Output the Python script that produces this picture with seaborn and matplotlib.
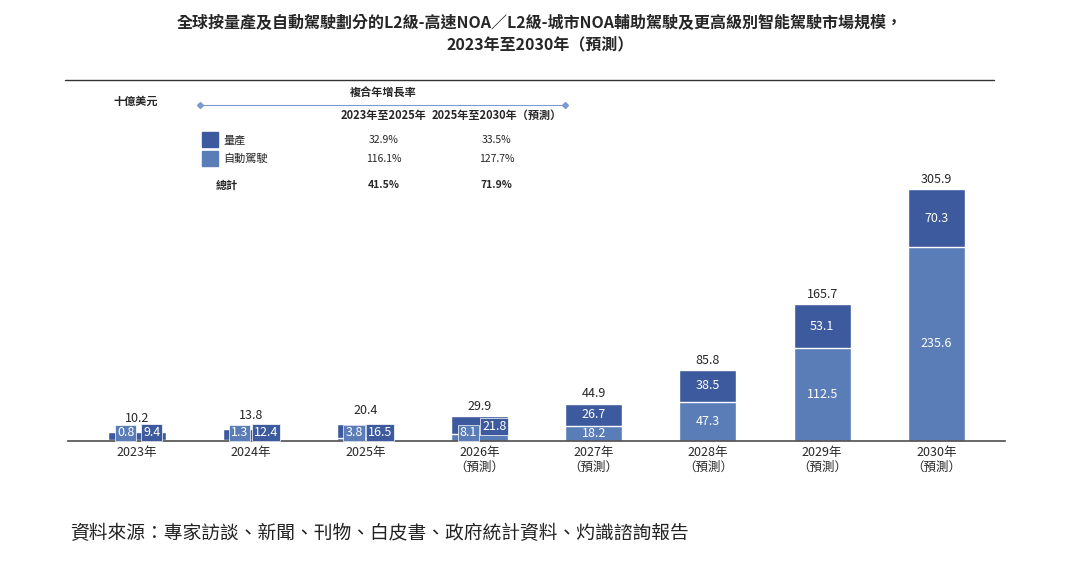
import matplotlib
matplotlib.use("Agg")
import matplotlib.pyplot as plt
import numpy as np
import pandas as pd
import seaborn as sns

years = ["2023年", "2024年", "2025年", "2026年\n（預測）", "2027年\n（預測）",
         "2028年\n（預測）", "2029年\n（預測）", "2030年\n（預測）"]
mass = [9.4, 12.4, 16.5, 21.8, 26.7, 38.5, 53.1, 70.3]        # 量產
auto = [0.8, 1.3, 3.8, 8.1, 18.2, 47.3, 112.5, 235.6]         # 自動駕駛
total = [10.2, 13.8, 20.4, 29.9, 44.9, 85.8, 165.7, 305.9]

dark = "#3D5A9E"
light = "#5A7DB8"

sns.set_theme(style="white")
plt.rcParams["font.family"] = ["Noto Sans CJK TC", "DejaVu Sans"]

fig = plt.figure(figsize=(10.8, 5.65), dpi=100)
ax = fig.add_axes([0.0634, 0.22, 0.867, 0.604])

df = pd.DataFrame({"year": years, "auto": auto, "total": total})
sns.barplot(data=df, x="year", y="total", color=dark, width=0.5, ax=ax, saturation=1)
sns.barplot(data=df, x="year", y="auto", color=light, width=0.5, ax=ax, saturation=1)
ax.set_ylim(0, 415)
ax.set_xlim(-0.6, 7.6)
ax.set_xlabel("")
ax.set_ylabel("")
ax.set_yticks([])
for s in ["top", "right", "left"]:
    ax.spines[s].set_visible(False)
ax.spines["bottom"].set_color("#555555")
ax.tick_params(axis="x", length=0, labelsize=9, pad=4)

for i in range(len(years)):
    off = 9 if i < 3 else 4
    ax.text(i, total[i] + off, f"{total[i]}", ha="center", va="bottom", fontsize=9)
    if i < 4:
        ax.text(i - 0.1, 1.5, f"{auto[i]}", ha="center", va="bottom", fontsize=9, color="white",
                bbox=dict(boxstyle="square,pad=0.15", fc=light, ec="white", lw=0.5))
        ax.text(i + 0.13, auto[i] + 1 if i == 3 else 2, f"{mass[i]}", ha="center", va="bottom",
                fontsize=9, color="white",
                bbox=dict(boxstyle="square,pad=0.15", fc=dark, ec="white", lw=0.5))
    else:
        ax.text(i, auto[i] / 2, f"{auto[i]}", ha="center", va="center", fontsize=9, color="white")
        ax.text(i, auto[i] + mass[i] / 2, f"{mass[i]}", ha="center", va="center", fontsize=9, color="white")

fig.text(0.5, 0.94, "全球按量產及自動駕駛劃分的L2級-高速NOA／L2級-城市NOA輔助駕駛及更高級別智能駕駛市場規模，\n2023年至2030年（預測）",
         ha="center", va="center", fontsize=11.5, fontweight="bold", linespacing=1.4)
fig.add_artist(plt.Line2D([0.06, 0.92], [0.858, 0.858], color="#333333", lw=1))

fig.text(0.105, 0.815, "十億美元", fontsize=8, style="italic", fontweight="bold")
fig.add_artist(plt.Line2D([0.185, 0.523], [0.815, 0.815], color="#7A9BD0", lw=0.8, marker="D", markersize=3))
fig.text(0.355, 0.83, "複合年增長率", fontsize=8, fontweight="bold", ha="center")
fig.text(0.355, 0.79, "2023年至2025年", fontsize=8, fontweight="bold", ha="center")
fig.text(0.46, 0.79, "2025年至2030年（預測）", fontsize=8, fontweight="bold", ha="center")
rows = [("量產", dark, "32.9%", "33.5%"), ("自動駕駛", light, "116.1%", "127.7%")]
for k, (name, c, a, b) in enumerate(rows):
    y = 0.752 - k * 0.033
    fig.add_artist(plt.Rectangle((0.187, y - 0.012), 0.015, 0.026, color=c))
    fig.text(0.207, y, name, fontsize=8, va="center")
    fig.text(0.355, y, a, fontsize=7.5, va="center", ha="center")
    fig.text(0.46, y, b, fontsize=7.5, va="center", ha="center")
fig.text(0.2, 0.672, "總計", fontsize=8, fontweight="bold", va="center")
fig.text(0.355, 0.672, "41.5%", fontsize=7.5, fontweight="bold", va="center", ha="center")
fig.text(0.46, 0.672, "71.9%", fontsize=7.5, fontweight="bold", va="center", ha="center")

fig.text(0.065, 0.055, "資料來源：專家訪談、新聞、刊物、白皮書、政府統計資料、灼識諮詢報告",
         fontsize=13.5, style="italic", color="#222222", va="center")

fig.savefig("out.png", dpi=100, facecolor="white")
